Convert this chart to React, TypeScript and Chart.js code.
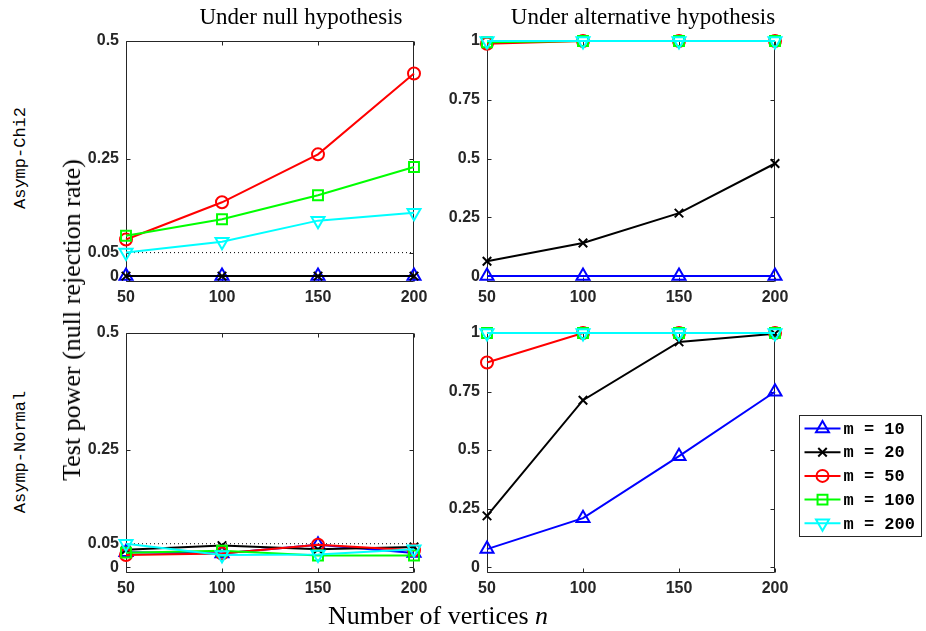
import React, { useEffect, useRef } from 'react';
import { Chart, registerables } from 'chart.js';
Chart.register(...registerables);

// ---------------- data ----------------
const nValues = [50, 100, 150, 200];
const seriesLabels = ['m = 10', 'm = 20', 'm = 50', 'm = 100', 'm = 200'];
const seriesColors = ['#0000ff', '#000000', '#ff0000', '#00ff00', '#00ffff'];
const seriesMarkers = ['triangle', 'crossRot', 'circle', 'rect', 'triangle'];
const markerRotation = [0, 0, 0, 0, 180];
const markerRadius = [7.5, 6, 6, 7, 7.5];

// Asymp-Chi2, under null hypothesis
const chi2NullM10 = [0, 0, 0, 0];
const chi2NullM20 = [0, 0, 0, 0];
const chi2NullM50 = [0.078, 0.157, 0.259, 0.431];
const chi2NullM100 = [0.086, 0.121, 0.172, 0.232];
const chi2NullM200 = [0.05, 0.073, 0.118, 0.135];

// Asymp-Chi2, under alternative hypothesis
const chi2AltM10 = [0, 0, 0, 0];
const chi2AltM20 = [0.063, 0.141, 0.268, 0.479];
const chi2AltM50 = [0.988, 1, 1, 1];
const chi2AltM100 = [0.995, 1, 1, 1];
const chi2AltM200 = [1, 1, 1, 1];

// Asymp-Normal, under null hypothesis
const normNullM10 = [0.032, 0.029, 0.048, 0.03];
const normNullM20 = [0.037, 0.046, 0.038, 0.043];
const normNullM50 = [0.026, 0.029, 0.048, 0.036];
const normNullM100 = [0.031, 0.035, 0.025, 0.025];
const normNullM200 = [0.05, 0.026, 0.027, 0.038];

// Asymp-Normal, under alternative hypothesis
const normAltM10 = [0.077, 0.209, 0.474, 0.749];
const normAltM20 = [0.219, 0.713, 0.962, 0.997];
const normAltM50 = [0.874, 1, 1, 1];
const normAltM100 = [1, 1, 1, 1];
const normAltM200 = [1, 1, 1, 1];

const nullTicks = [0, 0.05, 0.25, 0.5];
const altTicks = [0, 0.25, 0.5, 0.75, 1];
const xTicks = [50, 100, 150, 200];
const significanceLevel = 0.05;

// ---------------- helpers ----------------
const AXIS_COLOR = '#262626';
const ML = 70; // canvas margin left (room for y tick labels)
const MT = 25;
const MB = 40;

function buildDatasets(series: number[][], withLevel: boolean) {
  const ds: any[] = series.map((vals, i) => ({
    label: seriesLabels[i],
    data: nValues.map((n, j) => ({ x: n, y: vals[j] })),
    borderColor: seriesColors[i],
    backgroundColor: 'rgba(0,0,0,0)',
    borderWidth: 2,
    pointStyle: seriesMarkers[i],
    pointRotation: markerRotation[i],
    pointRadius: markerRadius[i],
    pointBorderWidth: 2,
    pointBorderColor: seriesColors[i],
    pointBackgroundColor: 'rgba(0,0,0,0)',
    tension: 0,
    clip: false,
    order: 5 - i,
  }));
  if (withLevel) {
    ds.push({
      label: 'level',
      data: [
        { x: nValues[0], y: significanceLevel },
        { x: nValues[nValues.length - 1], y: significanceLevel },
      ],
      borderColor: '#000000',
      borderWidth: 1,
      borderDash: [1, 3],
      pointRadius: 0,
      order: 20,
    });
  }
  return ds;
}

const boxPlugin = {
  id: 'matlabBox',
  beforeDatasetsDraw(chart: any) {
    const { ctx, chartArea: a } = chart;
    const xs = chart.scales.x;
    const ys = chart.scales.y;
    ctx.save();
    ctx.strokeStyle = AXIS_COLOR;
    ctx.lineWidth = 1;
    const L = Math.round(a.left) + 0.5;
    const R = Math.round(a.right) - 0.5;
    const T = Math.round(a.top) + 0.5;
    const B = Math.round(a.bottom) - 0.5;
    ctx.beginPath();
    ctx.rect(L, T, R - L, B - T);
    const tl = 4;
    xs.ticks.forEach((t: any) => {
      const px = Math.round(xs.getPixelForValue(t.value)) + 0.5;
      ctx.moveTo(px, B);
      ctx.lineTo(px, B - tl);
      ctx.moveTo(px, T);
      ctx.lineTo(px, T + tl);
    });
    ys.ticks.forEach((t: any) => {
      const py = Math.round(ys.getPixelForValue(t.value)) + 0.5;
      ctx.moveTo(L, py);
      ctx.lineTo(L + tl, py);
      ctx.moveTo(R, py);
      ctx.lineTo(R - tl, py);
    });
    ctx.stroke();
    ctx.restore();
  },
};

function drawMarker(ctx: CanvasRenderingContext2D, style: string, r: number, rot: number, x: number, y: number, color: string) {
  ctx.save();
  ctx.strokeStyle = color;
  ctx.lineWidth = 2;
  ctx.beginPath();
  const rad = (rot * Math.PI) / 180;
  if (style === 'triangle') {
    for (let k = 0; k < 3; k++) {
      const ang = rad + (k * 2 * Math.PI) / 3;
      const px = x + Math.sin(ang) * r;
      const py = y - Math.cos(ang) * r;
      if (k === 0) ctx.moveTo(px, py);
      else ctx.lineTo(px, py);
    }
    ctx.closePath();
  } else if (style === 'circle') {
    ctx.arc(x, y, r, 0, Math.PI * 2);
  } else if (style === 'rect') {
    const s = r * Math.SQRT1_2;
    ctx.rect(x - s, y - s, 2 * s, 2 * s);
  } else if (style === 'crossRot') {
    const s = r * Math.SQRT1_2;
    ctx.moveTo(x - s, y - s);
    ctx.lineTo(x + s, y + s);
    ctx.moveTo(x - s, y + s);
    ctx.lineTo(x + s, y - s);
  }
  ctx.stroke();
  ctx.restore();
}

function makeLegendPlugin(offsetX: number, offsetY: number) {
  return {
    id: 'matlabLegend',
    afterDraw(chart: any) {
      const ctx = chart.ctx;
      const bx = 799.5 - offsetX;
      const by = 415.5 - offsetY;
      const bw = 122;
      const bh = 121;
      ctx.save();
      ctx.fillStyle = '#ffffff';
      ctx.fillRect(bx, by, bw, bh);
      ctx.strokeStyle = AXIS_COLOR;
      ctx.lineWidth = 1;
      ctx.strokeRect(bx, by, bw, bh);
      ctx.font = 'bold 17px "Liberation Mono", "Courier New", monospace';
      ctx.textBaseline = 'middle';
      seriesLabels.forEach((lab, i) => {
        const cy = by + 13 + i * 23.7;
        const x0 = bx + 5;
        const x1 = bx + 41;
        ctx.strokeStyle = seriesColors[i];
        ctx.lineWidth = 2;
        ctx.beginPath();
        ctx.moveTo(x0, cy);
        ctx.lineTo(x1, cy);
        ctx.stroke();
        drawMarker(ctx, seriesMarkers[i], markerRadius[i], markerRotation[i], (x0 + x1) / 2, cy, seriesColors[i]);
        ctx.fillStyle = '#000000';
        ctx.fillText(lab, bx + 44, cy + 1);
      });
      ctx.restore();
    },
  };
}

type PanelProps = {
  left: number; // chart area left (page px)
  top: number;
  right: number;
  bottom: number;
  canvasRight: number; // page px where canvas ends
  series: number[][];
  yMin: number;
  yMax: number;
  yTicks: number[];
  withLevel: boolean;
  legend?: boolean;
};

function Panel(p: PanelProps) {
  const ref = useRef<HTMLCanvasElement | null>(null);
  const cLeft = p.left - ML;
  const cTop = p.top - MT;
  const width = p.canvasRight - cLeft;
  const height = p.bottom - p.top + MT + MB;
  const padRight = p.canvasRight - p.right;

  useEffect(() => {
    if (!ref.current) return;
    const plugins: any[] = [boxPlugin];
    if (p.legend) plugins.push(makeLegendPlugin(cLeft, cTop));
    const tickFont = { family: '"Liberation Sans", Arial, Helvetica, sans-serif', size: 16, weight: 'bold' as const };
    const chart = new Chart(ref.current, {
      type: 'line',
      data: { datasets: buildDatasets(p.series, p.withLevel) },
      options: {
        responsive: false,
        animation: false,
        devicePixelRatio: 1,
        layout: { padding: { left: 0, top: MT, right: padRight, bottom: 0 } },
        plugins: { legend: { display: false }, tooltip: { enabled: false } },
        scales: {
          x: {
            type: 'linear',
            min: nValues[0],
            max: nValues[nValues.length - 1],
            grid: { display: false, drawTicks: false },
            border: { display: false },
            afterBuildTicks: (s: any) => {
              s.ticks = xTicks.map((v) => ({ value: v }));
            },
            afterFit: (s: any) => {
              s.height = MB;
            },
            ticks: {
              color: AXIS_COLOR,
              font: tickFont,
              padding: 6,
              maxRotation: 0,
              autoSkip: false,
              callback: (v: any) => String(v),
            },
          },
          y: {
            type: 'linear',
            min: p.yMin,
            max: p.yMax,
            grid: { display: false, drawTicks: false },
            border: { display: false },
            afterBuildTicks: (s: any) => {
              s.ticks = p.yTicks.map((v) => ({ value: v }));
            },
            afterFit: (s: any) => {
              s.width = ML;
            },
            ticks: {
              color: AXIS_COLOR,
              font: tickFont,
              padding: 7,
              autoSkip: false,
              callback: (v: any) => String(v),
            },
          },
        },
      },
      plugins,
    } as any);
    return () => chart.destroy();
  }, []);

  return (
    <canvas
      ref={ref}
      width={width}
      height={height}
      style={{ position: 'absolute', left: cLeft, top: cTop, width, height }}
    />
  );
}

function Label(props: { text: React.ReactNode; cx: number; cy: number; rotate?: number; font: string }) {
  return (
    <div
      style={{
        position: 'absolute',
        left: props.cx,
        top: props.cy,
        transform: `translate(-50%, -50%) rotate(${props.rotate || 0}deg)`,
        whiteSpace: 'nowrap',
        font: props.font,
        color: '#000',
        lineHeight: 1,
      }}
    >
      {props.text}
    </div>
  );
}

export default function App() {
  const titleFont = '23px "Liberation Serif", "Times New Roman", serif';
  const labelFont = '26px "Liberation Serif", "Times New Roman", serif';
  const mono = '17px "Liberation Mono", "Courier New", monospace';
  return (
    <div style={{ position: 'absolute', left: 0, top: 0, width: 926, height: 631, background: '#fff', overflow: 'hidden' }}>
      <Panel
        left={126} top={41} right={414} bottom={282} canvasRight={444}
        series={[chi2NullM10, chi2NullM20, chi2NullM50, chi2NullM100, chi2NullM200]}
        yMin={-0.0125} yMax={0.5} yTicks={nullTicks} withLevel={true}
      />
      <Panel
        left={487} top={41} right={775} bottom={282} canvasRight={805}
        series={[chi2AltM10, chi2AltM20, chi2AltM50, chi2AltM100, chi2AltM200]}
        yMin={-0.025} yMax={1} yTicks={altTicks} withLevel={false}
      />
      <Panel
        left={126} top={333} right={414} bottom={573} canvasRight={444}
        series={[normNullM10, normNullM20, normNullM50, normNullM100, normNullM200]}
        yMin={-0.0125} yMax={0.5} yTicks={nullTicks} withLevel={true}
      />
      <Panel
        left={487} top={333} right={775} bottom={573} canvasRight={926}
        series={[normAltM10, normAltM20, normAltM50, normAltM100, normAltM200]}
        yMin={-0.025} yMax={1} yTicks={altTicks} withLevel={false} legend={true}
      />
      <Label text="Under null hypothesis" cx={301} cy={16} font={titleFont} />
      <Label text="Under alternative hypothesis" cx={643} cy={16} font={titleFont} />
      <Label text="Test power (null rejection rate)" cx={72} cy={320} rotate={-90} font={labelFont} />
      <Label text="Asymp-Chi2" cx={20} cy={158} rotate={-90} font={mono} />
      <Label text="Asymp-Normal" cx={20} cy={452} rotate={-90} font={mono} />
      <Label
        text={<span>Number of vertices <i>n</i></span>}
        cx={438} cy={616} font={labelFont}
      />
    </div>
  );
}
